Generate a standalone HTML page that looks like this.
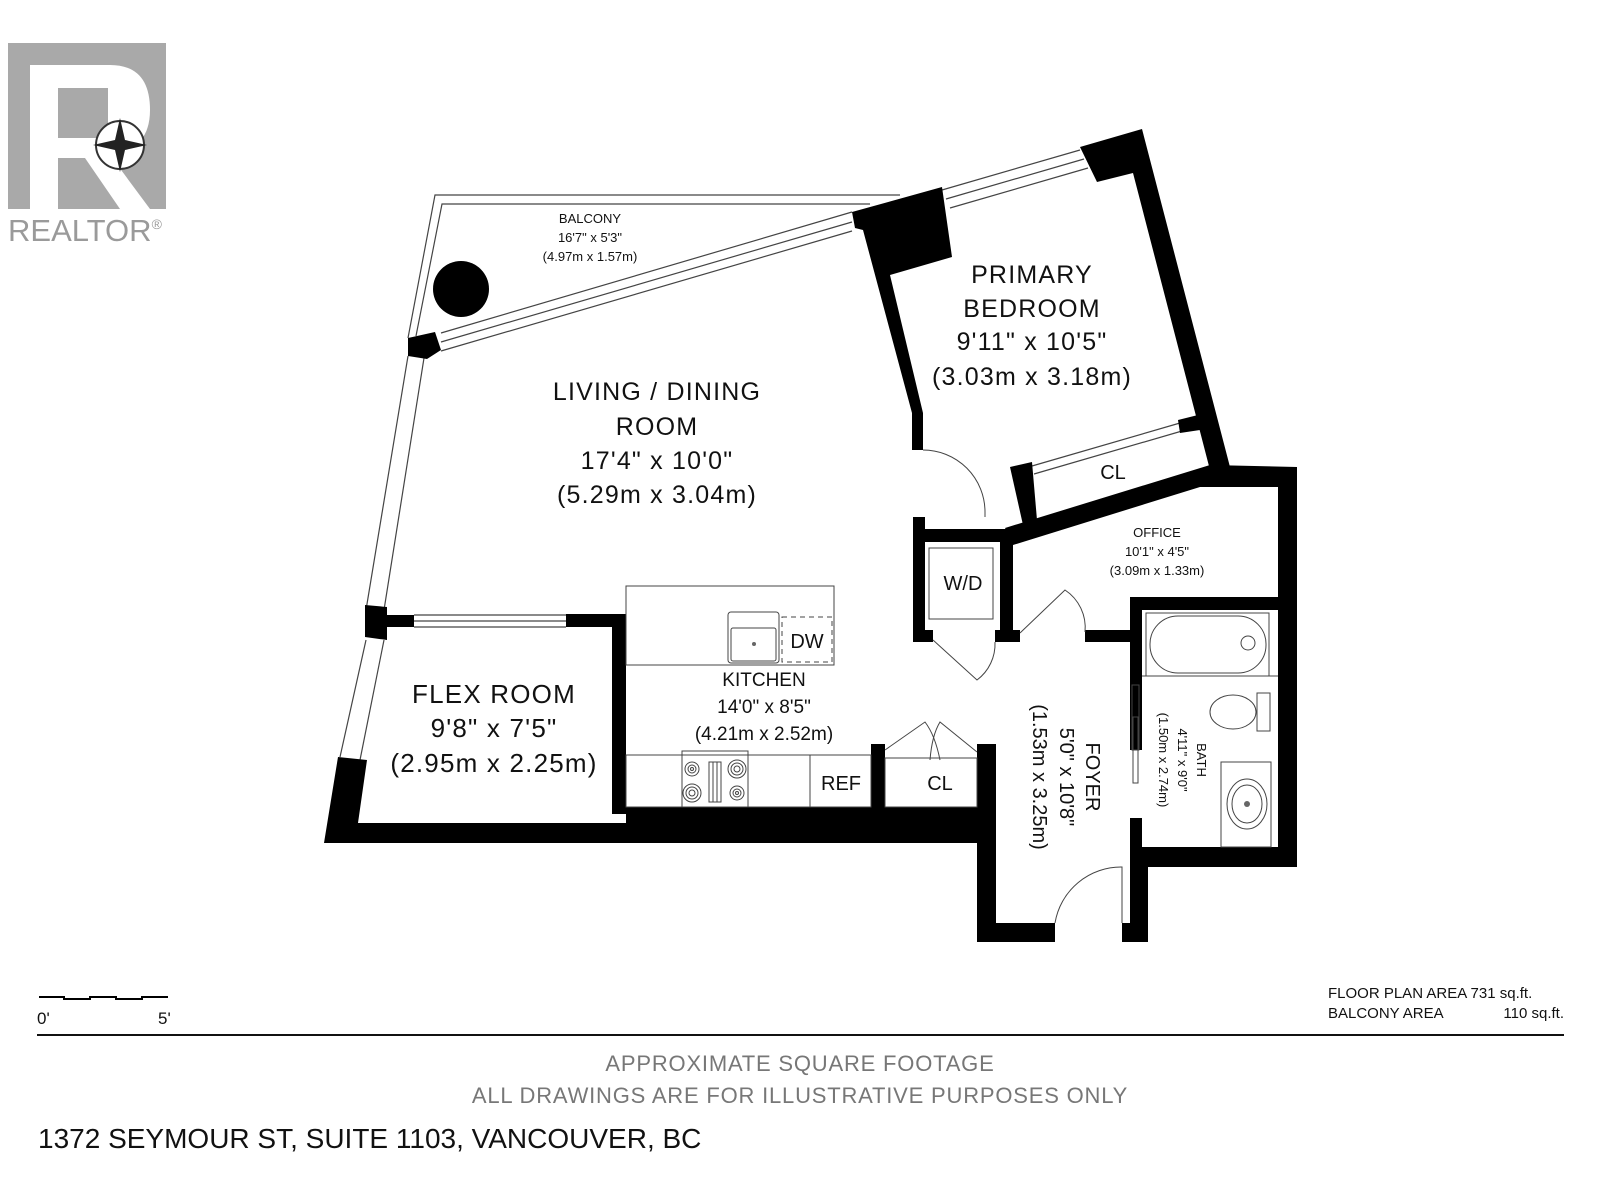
<!DOCTYPE html>
<html><head><meta charset="utf-8"><style>
html,body{margin:0;padding:0;background:#fff}
svg{display:block}
text{font-family:"Liberation Sans",sans-serif;fill:#111}
.big{letter-spacing:1.2px}
</style></head><body>
<svg width="1600" height="1200" viewBox="0 0 1600 1200" xmlns="http://www.w3.org/2000/svg">
<rect width="1600" height="1200" fill="#fff"/>
<!-- REALTOR logo -->
<rect x="8" y="43" width="158" height="166" fill="#a9a9a9"/>
<path d="M30 65 H110 Q150 65 150 110 Q150 150 110 155 L150 209 H120 L85 158 H58 V209 H30 Z" fill="#fff"/>
<rect x="58" y="88" width="50" height="50" fill="#a9a9a9"/>
<circle cx="120" cy="145" r="24" fill="#fff" stroke="#333" stroke-width="2"/>
<path d="M120 118 L125 140 L147 145 L125 150 L120 172 L115 150 L93 145 L115 140 Z" fill="#222"/>
<text x="8" y="241" font-size="31" fill="#9a9a9a" style="fill:#9a9a9a">REALTOR<tspan font-size="14" dy="-12">®</tspan></text>

<!-- balcony -->
<g fill="none" stroke="#444" stroke-width="1.2">
<polyline points="408,338 435,195 900,195"/>
<polyline points="416,336 442,204 870,204"/>
<line x1="408" y1="356" x2="366" y2="610"/>
<line x1="424" y1="358" x2="384" y2="610"/>
<line x1="366" y1="640" x2="340" y2="757"/>
<line x1="384" y1="640" x2="360" y2="760"/>
<line x1="441" y1="333" x2="852" y2="212"/>
<line x1="441" y1="342" x2="852" y2="222"/>
<line x1="441" y1="351" x2="852" y2="231"/>
<line x1="942" y1="190" x2="1080" y2="150"/>
<line x1="946" y1="199" x2="1084" y2="159"/>
<line x1="950" y1="208" x2="1088" y2="168"/>
<line x1="1032" y1="466" x2="1180" y2="423"/>
<line x1="1034" y1="474" x2="1182" y2="431"/>
<line x1="414" y1="615" x2="566" y2="615"/>
<line x1="414" y1="621" x2="566" y2="621"/>
<line x1="414" y1="627" x2="566" y2="627"/>
</g>
<circle cx="461" cy="289" r="28" fill="#000"/>
<text x="590" y="223" font-size="13" text-anchor="middle">BALCONY</text>
<text x="590" y="242" font-size="13" text-anchor="middle">16'7" x 5'3"</text>
<text x="590" y="261" font-size="13" text-anchor="middle">(4.97m x 1.57m)</text>

<!-- walls -->
<g fill="#000">
<polygon points="408,338 435,332 441,350 427,359 408,356"/>
<polygon points="852,212 942,187 952,257 890,275 923,413 923,450 912,450 912,413 863,230 855,228"/>
<polygon points="1080,147 1142,129 1230,467 1210,470 1133,173 1097,182"/>
<polygon points="1010,467 1032,462 1037,520 1023,525"/>
<polygon points="1178,420 1198,415 1200,430 1180,433"/>
<polygon points="1005,528 1210,465 1297,467 1297,867 1148,867 1148,942 1122,942 1122,923 1130,923 1130,847 1278,847 1278,610 1142,610 1142,750 1130,750 1130,597 1278,597 1278,487 1200,487 1013,545"/>
<rect x="1130" y="818" width="12" height="32"/>
<rect x="913" y="517" width="12" height="125"/>
<rect x="913" y="529" width="100" height="13"/>
<rect x="1000" y="529" width="13" height="113"/>
<rect x="913" y="630" width="20" height="12"/>
<rect x="995" y="630" width="25" height="12"/>
<rect x="1085" y="630" width="45" height="12"/>
<polygon points="365,605 387,607 387,615 414,615 414,627 387,627 387,640 365,637"/>
<rect x="566" y="614" width="60" height="13"/>
<rect x="612" y="614" width="14" height="200"/>
<polygon points="338,757 367,760 358,823 626,823 626,807 871,807 871,744 885,744 885,807 977,807 977,744 996,744 996,923 1055,923 1055,942 977,942 977,843 324,843"/>
<rect x="871" y="744" width="10" height="14"/>
</g>
<g fill="none" stroke="#444" stroke-width="1">
<path d="M923 450 A62 62 0 0 1 985 512 L985 517"/>
<path d="M933 640 L977 680 A45 45 0 0 0 995 642"/>
<path d="M1020 633 L1065 590 A45 45 0 0 1 1085 632"/>
<path d="M1055 923 A67 67 0 0 1 1122 867 L1122 923"/>
<path d="M885 750 L925 722 Q935 735 940 760"/>
<path d="M977 752 L940 722 Q932 735 930 760"/>
<rect x="626" y="586" width="208" height="79"/>
<rect x="728" y="612" width="51" height="51" rx="3"/>
<rect x="731" y="628" width="45" height="33" rx="2"/>
<rect x="782" y="617" width="50" height="45" stroke-dasharray="5,4"/>
<rect x="626" y="755" width="245" height="52"/>
<rect x="682" y="755" width="66" height="52"/>
<line x1="810" y1="755" x2="810" y2="807"/>
<rect x="885" y="758" width="92" height="49"/>
<circle cx="692" cy="769" r="7"/><circle cx="692" cy="769" r="4"/><circle cx="692" cy="769" r="1.5"/>
<circle cx="692" cy="793" r="9"/><circle cx="692" cy="793" r="6"/><circle cx="692" cy="793" r="3"/>
<circle cx="737" cy="769" r="9"/><circle cx="737" cy="769" r="6"/><circle cx="737" cy="769" r="3"/>
<circle cx="737" cy="793" r="7"/><circle cx="737" cy="793" r="4"/><circle cx="737" cy="793" r="1.5"/>
<rect x="709" y="762" width="12" height="40"/>
<line x1="713" y1="762" x2="713" y2="802"/><line x1="717" y1="762" x2="717" y2="802"/>
<rect x="682" y="751" width="66" height="4"/>
<rect x="929" y="548" width="64" height="71"/>
<rect x="1146" y="613" width="123" height="63"/>
<rect x="1150" y="616" width="116" height="57" rx="28"/>
<circle cx="1248" cy="643" r="7"/>
<line x1="1142" y1="676" x2="1278" y2="676"/>
<rect x="1257" y="693" width="13" height="38"/>
<ellipse cx="1233" cy="712" rx="23" ry="17"/>
<rect x="1221" y="762" width="50" height="85"/>
<ellipse cx="1247" cy="804" rx="20" ry="25"/>
<ellipse cx="1247" cy="804" rx="15" ry="19"/>
<rect x="1132" y="685" width="7" height="65"/>
<rect x="1133" y="717" width="5" height="66"/>
</g>
<circle cx="1247" cy="804" r="3" fill="#666"/>
<circle cx="754" cy="644" r="2" fill="#666"/>

<g text-anchor="middle">
<text class="big" x="657" y="400" font-size="25">LIVING / DINING</text>
<text class="big" x="657" y="435" font-size="25">ROOM</text>
<text class="big" x="657" y="469" font-size="25">17'4" x 10'0"</text>
<text class="big" x="657" y="503" font-size="25">(5.29m x 3.04m)</text>
<text class="big" x="1032" y="283" font-size="25">PRIMARY</text>
<text class="big" x="1032" y="317" font-size="25">BEDROOM</text>
<text class="big" x="1032" y="350" font-size="25">9'11" x 10'5"</text>
<text class="big" x="1032" y="385" font-size="25">(3.03m x 3.18m)</text>
<text x="1113" y="479" font-size="20">CL</text>
<text x="1157" y="537" font-size="13">OFFICE</text>
<text x="1157" y="556" font-size="13">10'1" x 4'5"</text>
<text x="1157" y="575" font-size="13">(3.09m x 1.33m)</text>
<text x="963" y="590" font-size="20">W/D</text>
<text x="807" y="648" font-size="20">DW</text>
<text x="764" y="686" font-size="19">KITCHEN</text>
<text x="764" y="713" font-size="19">14'0" x 8'5"</text>
<text x="764" y="740" font-size="19">(4.21m x 2.52m)</text>
<text x="841" y="790" font-size="20">REF</text>
<text x="940" y="790" font-size="20">CL</text>
<text class="big" x="494" y="703" font-size="26">FLEX ROOM</text>
<text class="big" x="494" y="737" font-size="26">9'8" x 7'5"</text>
<text class="big" x="494" y="772" font-size="26">(2.95m x 2.25m)</text>
<g transform="translate(1067,777) rotate(90)">
<text x="0" y="-19" font-size="20">FOYER</text>
<text x="0" y="7" font-size="20">5'0" x 10'8"</text>
<text x="0" y="34" font-size="20">(1.53m x 3.25m)</text>
</g>
<g transform="translate(1183,760) rotate(90)">
<text x="0" y="-14" font-size="13">BATH</text>
<text x="0" y="5" font-size="13">4'11" x 9'0"</text>
<text x="0" y="24" font-size="13">(1.50m x 2.74m)</text>
</g>
</g>

<polyline points="39,997 64,997 64,999 90,999 90,997 116,997 116,999 142,999 142,997 168,997" fill="none" stroke="#000" stroke-width="2"/>
<text x="37" y="1024" font-size="17">0'</text>
<text x="158" y="1024" font-size="17">5'</text>
<text x="1328" y="998" font-size="15">FLOOR PLAN AREA 731 sq.ft.</text>
<text x="1328" y="1018" font-size="15">BALCONY AREA</text>
<text x="1564" y="1018" font-size="15" text-anchor="end">110 sq.ft.</text>
<rect x="37" y="1034" width="1527" height="2" fill="#111"/>
<text x="800" y="1071" font-size="22" text-anchor="middle" letter-spacing="0.8" style="fill:#777">APPROXIMATE SQUARE FOOTAGE</text>
<text x="800" y="1103" font-size="22" text-anchor="middle" letter-spacing="0.8" style="fill:#777">ALL DRAWINGS ARE FOR ILLUSTRATIVE PURPOSES ONLY</text>
<text x="38" y="1148" font-size="28">1372 SEYMOUR ST, SUITE 1103, VANCOUVER, BC</text>
</svg>
</body></html>
